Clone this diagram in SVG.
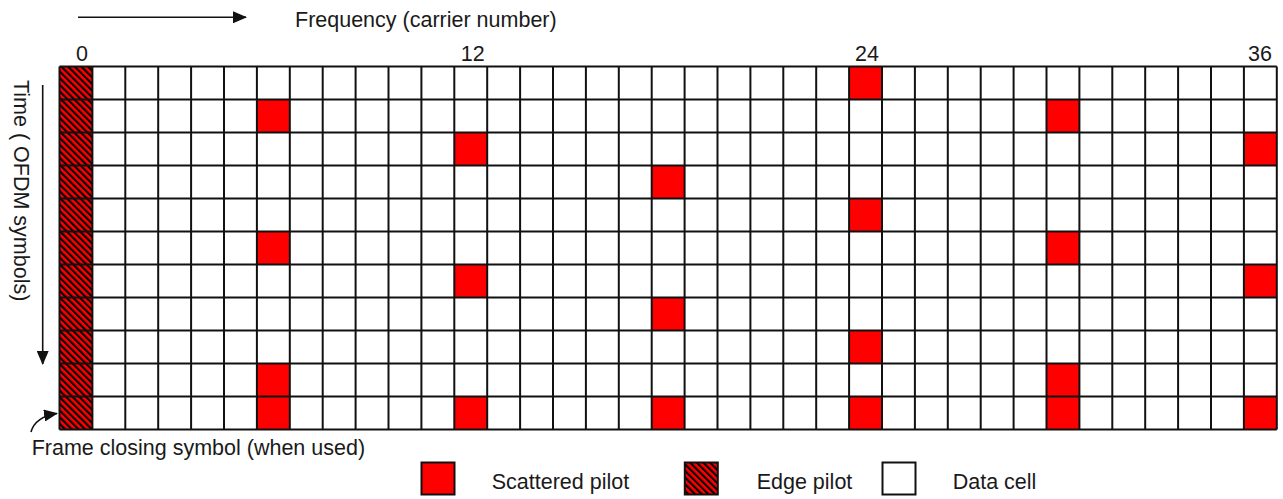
<svg xmlns="http://www.w3.org/2000/svg" width="1283" height="499" viewBox="0 0 1283 499">
<style>
text{font-family:"Liberation Sans",Arial,sans-serif;font-size:21.5px;fill:#1a1a1a}
.sp{fill:#ff0000}
.ep{fill:url(#hatch)}
.grid{fill:none;stroke:#111;stroke-width:2}
.box{stroke:#111;stroke-width:2}
.arr{fill:none;stroke:#111;stroke-width:1.6}
</style>
<defs>
<pattern id="hatch" patternUnits="userSpaceOnUse" width="4.7" height="4.7" patternTransform="rotate(-45)">
<rect width="4.7" height="4.7" fill="#ff0000"/>
<rect width="2.1" height="4.7" fill="#000"/>
</pattern>
<marker id="ah" markerUnits="userSpaceOnUse" markerWidth="14" markerHeight="12" refX="13" refY="6" orient="auto">
<path d="M0,0 L14,6 L0,12 Z" fill="#111"/>
</marker>
</defs>
<rect width="1283" height="499" fill="#fff"/>

<g id="axis-frequency">
<path class="arr" d="M78,17.3 H246" marker-end="url(#ah)"/>
<text x="295" y="27">Frequency (carrier number)</text>
</g>
<g id="axis-numbers">
<text x="76" y="61">0</text>
<text x="460.7" y="61">12</text>
<text x="855" y="61">24</text>
<text x="1248" y="61">36</text>
</g>
<g id="axis-time">
<path class="arr" d="M42.7,85 V364" marker-end="url(#ah)"/>
<text transform="translate(13.5,80) rotate(90)">Time ( OFDM symbols)</text>
</g>

<g id="edge-pilots">
<rect class="ep" x="59.5" y="66.5" width="32.9" height="363"/>
</g>
<g id="scattered-pilots" class="sp">
<rect x="849.1" y="66.5" width="32.9" height="33"/>
<rect x="256.9" y="99.5" width="32.9" height="33"/>
<rect x="1046.5" y="99.5" width="32.9" height="33"/>
<rect x="454.3" y="132.5" width="32.9" height="33"/>
<rect x="1243.9" y="132.5" width="32.9" height="33"/>
<rect x="651.7" y="165.5" width="32.9" height="33"/>
<rect x="849.1" y="198.5" width="32.9" height="33"/>
<rect x="256.9" y="231.5" width="32.9" height="33"/>
<rect x="1046.5" y="231.5" width="32.9" height="33"/>
<rect x="454.3" y="264.5" width="32.9" height="33"/>
<rect x="1243.9" y="264.5" width="32.9" height="33"/>
<rect x="651.7" y="297.5" width="32.9" height="33"/>
<rect x="849.1" y="330.5" width="32.9" height="33"/>
<rect x="256.9" y="363.5" width="32.9" height="33"/>
<rect x="1046.5" y="363.5" width="32.9" height="33"/>
<rect x="256.9" y="396.5" width="32.9" height="33"/>
<rect x="454.3" y="396.5" width="32.9" height="33"/>
<rect x="651.7" y="396.5" width="32.9" height="33"/>
<rect x="849.1" y="396.5" width="32.9" height="33"/>
<rect x="1046.5" y="396.5" width="32.9" height="33"/>
<rect x="1243.9" y="396.5" width="32.9" height="33"/>
</g>
<g id="grid">
<path class="grid" d="M59.5,66.5V429.5M92.4,66.5V429.5M125.3,66.5V429.5M158.2,66.5V429.5M191.1,66.5V429.5M224,66.5V429.5M256.9,66.5V429.5M289.8,66.5V429.5M322.7,66.5V429.5M355.6,66.5V429.5M388.5,66.5V429.5M421.4,66.5V429.5M454.3,66.5V429.5M487.2,66.5V429.5M520.1,66.5V429.5M553,66.5V429.5M585.9,66.5V429.5M618.8,66.5V429.5M651.7,66.5V429.5M684.6,66.5V429.5M717.5,66.5V429.5M750.4,66.5V429.5M783.3,66.5V429.5M816.2,66.5V429.5M849.1,66.5V429.5M882,66.5V429.5M914.9,66.5V429.5M947.8,66.5V429.5M980.7,66.5V429.5M1013.6,66.5V429.5M1046.5,66.5V429.5M1079.4,66.5V429.5M1112.3,66.5V429.5M1145.2,66.5V429.5M1178.1,66.5V429.5M1211,66.5V429.5M1243.9,66.5V429.5M1276.8,66.5V429.5
M59.5,66.5H1276.8M59.5,99.5H1276.8M59.5,132.5H1276.8M59.5,165.5H1276.8M59.5,198.5H1276.8M59.5,231.5H1276.8M59.5,264.5H1276.8M59.5,297.5H1276.8M59.5,330.5H1276.8M59.5,363.5H1276.8M59.5,396.5H1276.8M59.5,429.5H1276.8"/>
</g>

<g id="frame-closing">
<path class="arr" d="M31,432 Q35,417 57,413.5" marker-end="url(#ah)"/>
<text x="31.7" y="455">Frame closing symbol (when used)</text>
</g>

<g id="legend">
<g id="legend-scattered">
<rect class="sp box" x="421.5" y="462.5" width="33" height="32"/>
<text x="491.7" y="488.5">Scattered pilot</text>
</g>
<g id="legend-edge">
<rect class="ep box" x="684.8" y="462.5" width="33" height="32"/>
<text x="756.7" y="488.5">Edge pilot</text>
</g>
<g id="legend-data">
<rect class="box" fill="#fff" x="882.5" y="462.5" width="33" height="32"/>
<text x="952.7" y="488.5">Data cell</text>
</g>
</g>
</svg>
